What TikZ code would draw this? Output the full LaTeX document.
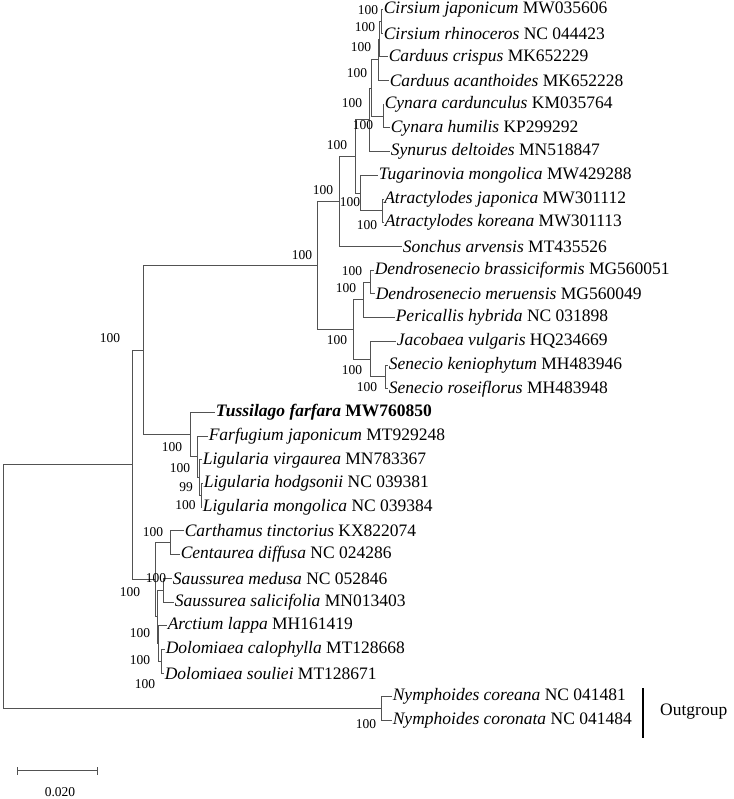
\documentclass[tikz,border=0pt]{standalone}
\usepackage{fontspec}
\setmainfont{Liberation Serif}
\begin{document}
\begin{tikzpicture}[x=1pt,y=-1pt,
  br/.style={draw=black!68,line width=1pt},
  tip/.style={anchor=west,inner sep=0.6pt,font=\fontsize{17.5}{20}\selectfont},
  bs/.style={font=\fontsize{13.5}{15}\selectfont,inner sep=0pt},
  declare function={ry(\i)=9.5+23.7*(\i-1);}]
\useasboundingbox (0,0) rectangle (733,799);
% tips
\node[tip] (t1) at (383,{ry(1)}) {\textit{Cirsium japonicum} MW035606};
\node[tip] (t2) at (383,{ry(2)}) {\textit{Cirsium rhinoceros} NC 044423};
\node[tip] (t3) at (388,{ry(3)}) {\textit{Carduus crispus} MK652229};
\node[tip] (t4) at (389,{ry(4)}) {\textit{Carduus acanthoides} MK652228};
\node[tip] (t5) at (384,{ry(5)}) {\textit{Cynara cardunculus} KM035764};
\node[tip] (t6) at (390,{ry(6)}) {\textit{Cynara humilis} KP299292};
\node[tip] (t7) at (390,{ry(7)}) {\textit{Synurus deltoides} MN518847};
\node[tip] (t8) at (378,{ry(8)}) {\textit{Tugarinovia mongolica} MW429288};
\node[tip] (t9) at (383.5,{ry(9)}) {\textit{Atractylodes japonica} MW301112};
\node[tip] (t10) at (384,{ry(10)}) {\textit{Atractylodes koreana} MW301113};
\node[tip] (t11) at (402,{ry(11)}) {\textit{Sonchus arvensis} MT435526};
\node[tip] (t12) at (374,{ry(12)}) {\textit{Dendrosenecio brassiciformis} MG560051};
\node[tip] (t13) at (375,{ry(13)}) {\textit{Dendrosenecio meruensis} MG560049};
\node[tip] (t14) at (395,{ry(14)}) {\textit{Pericallis hybrida} NC 031898};
\node[tip] (t15) at (396,{ry(15)}) {\textit{Jacobaea vulgaris} HQ234669};
\node[tip] (t16) at (388,{ry(16)}) {\textit{Senecio keniophytum} MH483946};
\node[tip] (t17) at (388,{ry(17)}) {\textit{Senecio roseiflorus} MH483948};
\node[tip] (t18) at (215,{ry(18)}) {\textbf{\textit{Tussilago farfara} MW760850}};
\node[tip] (t19) at (208,{ry(19)}) {\textit{Farfugium japonicum} MT929248};
\node[tip] (t20) at (202,{ry(20)}) {\textit{Ligularia virgaurea} MN783367};
\node[tip] (t21) at (203,{ry(21)}) {\textit{Ligularia hodgsonii} NC 039381};
\node[tip] (t22) at (202,{ry(22)}) {\textit{Ligularia mongolica} NC 039384};
\node[tip] (t23) at (184,{ry(23)}) {\textit{Carthamus tinctorius} KX822074};
\node[tip] (t24) at (180,{ry(24)}) {\textit{Centaurea diffusa} NC 024286};
\node[tip] (t25) at (172,{ry(25)}) {\textit{Saussurea medusa} NC 052846};
\node[tip] (t26) at (174,{ry(26)}) {\textit{Saussurea salicifolia} MN013403};
\node[tip] (t27) at (167,{ry(27)}) {\textit{Arctium lappa} MH161419};
\node[tip] (t28) at (165,{ry(28)}) {\textit{Dolomiaea calophylla} MT128668};
\node[tip] (t29) at (164,{ry(29)}) {\textit{Dolomiaea souliei} MT128671};
\node[tip] (t30) at (392,{ry(30)}) {\textit{Nymphoides coreana} NC 041481};
\node[tip] (t31) at (392,{ry(31)}) {\textit{Nymphoides coronata} NC 041484};
% internal nodes
\coordinate (J) at (381,{ry(1.5)});
\coordinate (J2) at (379.5,{ry(2.25)});
\coordinate (I) at (378,{ry(3.125)});
\coordinate (Cy) at (383,{ry(5.5)});
\coordinate (H) at (371.7,{ry(4.3125)});
\coordinate (E) at (369,{ry(5.65625)});
\coordinate (At) at (382.7,{ry(9.5)});
\coordinate (L) at (360,{ry(8.75)});
\coordinate (D) at (355,{ry(7.203125)});
\coordinate (C) at (339,{ry(9.1015625)});
\coordinate (De) at (370,{ry(12.5)});
\coordinate (N) at (363,{ry(13.25)});
\coordinate (Se) at (385,{ry(16.5)});
\coordinate (O) at (370,{ry(15.75)});
\coordinate (M) at (353,{ry(14.5)});
\coordinate (B) at (317,{ry(11.80078)});
\coordinate (P) at (201,{ry(21.5)});
\coordinate (Q) at (199,{ry(20.75)});
\coordinate (R) at (197,{ry(19.875)});
\coordinate (T) at (190,{ry(18.9375)});
\coordinate (A) at (143,{ry(15.36914)});
\coordinate (U) at (170,{ry(23.5)});
\coordinate (S) at (163,{ry(25.5)});
\coordinate (Do) at (161,{ry(28.5)});
\coordinate (AD) at (158,{ry(27.75)});
\coordinate (Z) at (157,{ry(26.625)});
\coordinate (V) at (155,{ry(25.0625)});
\coordinate (G) at (132,{ry(20.2158)});
\coordinate (Ny) at (381,{ry(30.5)});
\coordinate (Rt) at (3.5,{ry(25.358)});
% branches
\draw[br] (J) |- (t1.west); \draw[br] (J) |- (t2.west);
\draw[br] (J2) |- (J); \draw[br] (J2) |- (t3.west);
\draw[br] (I) |- (J2); \draw[br] (I) |- (t4.west);
\draw[br] (Cy) |- (t5.west); \draw[br] (Cy) |- (t6.west);
\draw[br] (H) |- (I); \draw[br] (H) |- (Cy);
\draw[br] (E) |- (H); \draw[br] (E) |- (t7.west);
\draw[br] (At) |- (t9.west); \draw[br] (At) |- (t10.west);
\draw[br] (L) |- (t8.west); \draw[br] (L) |- (At);
\draw[br] (D) |- (E); \draw[br] (D) |- (L);
\draw[br] (C) |- (D); \draw[br] (C) |- (t11.west);
\draw[br] (De) |- (t12.west); \draw[br] (De) |- (t13.west);
\draw[br] (N) |- (De); \draw[br] (N) |- (t14.west);
\draw[br] (Se) |- (t16.west); \draw[br] (Se) |- (t17.west);
\draw[br] (O) |- (t15.west); \draw[br] (O) |- (Se);
\draw[br] (M) |- (N); \draw[br] (M) |- (O);
\draw[br] (B) |- (C); \draw[br] (B) |- (M);
\draw[br] (P) |- (t21.west); \draw[br] (P) |- (t22.west);
\draw[br] (Q) |- (t20.west); \draw[br] (Q) |- (P);
\draw[br] (R) |- (t19.west); \draw[br] (R) |- (Q);
\draw[br] (T) |- (t18.west); \draw[br] (T) |- (R);
\draw[br] (A) |- (B); \draw[br] (A) |- (T);
\draw[br] (U) |- (t23.west); \draw[br] (U) |- (t24.west);
\draw[br] (S) |- (t25.west); \draw[br] (S) |- (t26.west);
\draw[br] (Do) |- (t28.west); \draw[br] (Do) |- (t29.west);
\draw[br] (AD) |- (t27.west); \draw[br] (AD) |- (Do);
\draw[br] (Z) |- (S); \draw[br] (Z) |- (AD);
\draw[br] (V) |- (U); \draw[br] (V) |- (Z);
\draw[br] (G) |- (A); \draw[br] (G) |- (V);
\draw[br] (Ny) |- (t30.west); \draw[br] (Ny) |- (t31.west);
\draw[br] (Rt) |- (G); \draw[br] (Rt) |- (Ny);
% bootstrap values
\node[bs] (bJ) at (368,10) {100};
\node[bs] (bJ2) at (365,27) {100};
\node[bs] (bI) at (361,47) {100};
\node[bs] (bH) at (357,73) {100};
\node[bs] (bE) at (352,103) {100};
\node[bs] (bCy) at (363,125) {100};
\node[bs] (bD) at (337,145) {100};
\node[bs] (bC) at (323,190) {100};
\node[bs] (bB) at (302,255) {100};
\node[bs] (bL) at (350,202) {100};
\node[bs] (bAt) at (367,225) {100};
\node[bs] (bA) at (110,338) {100};
\node[bs] (bDe) at (352,271) {100};
\node[bs] (bN) at (346,288) {100};
\node[bs] (bM) at (337,340) {100};
\node[bs] (bO) at (352,370) {100};
\node[bs] (bSe) at (367,387) {100};
\node[bs] (bT) at (172,447) {100};
\node[bs] (bR) at (180,468) {100};
\node[bs] (bQ) at (186,487) {99};
\node[bs] (bP) at (185.5,505) {100};
\node[bs] (bU) at (153,532) {100};
\node[bs] (bS) at (156,578) {100};
\node[bs] (bV) at (130,592) {100};
\node[bs] (bZ) at (140,633) {100};
\node[bs] (bAD) at (140,660) {100};
\node[bs] (bDo) at (145,684) {100};
\node[bs] (bNy) at (366,724) {100};
% outgroup bar
\coordinate (og1) at (643,688);
\coordinate (og2) at (643,738);
\draw[line width=2.6pt] (og1) -- (og2);
\node[anchor=west,inner sep=0pt,font=\fontsize{17.5}{20}\selectfont] (og) at (660,712) {Outgroup};
% scale bar
\coordinate (s1) at (17.3,770.7);
\coordinate (s2) at (97.7,770.7);
\draw[br] (s1) -- (s2);
\draw[br] ([yshift=-4pt]s1) -- ([yshift=4pt]s1);
\draw[br] ([yshift=-4pt]s2) -- ([yshift=4pt]s2);
\node[bs] (sl) at (60,791.7) {0.020};
\end{tikzpicture}
\end{document}
